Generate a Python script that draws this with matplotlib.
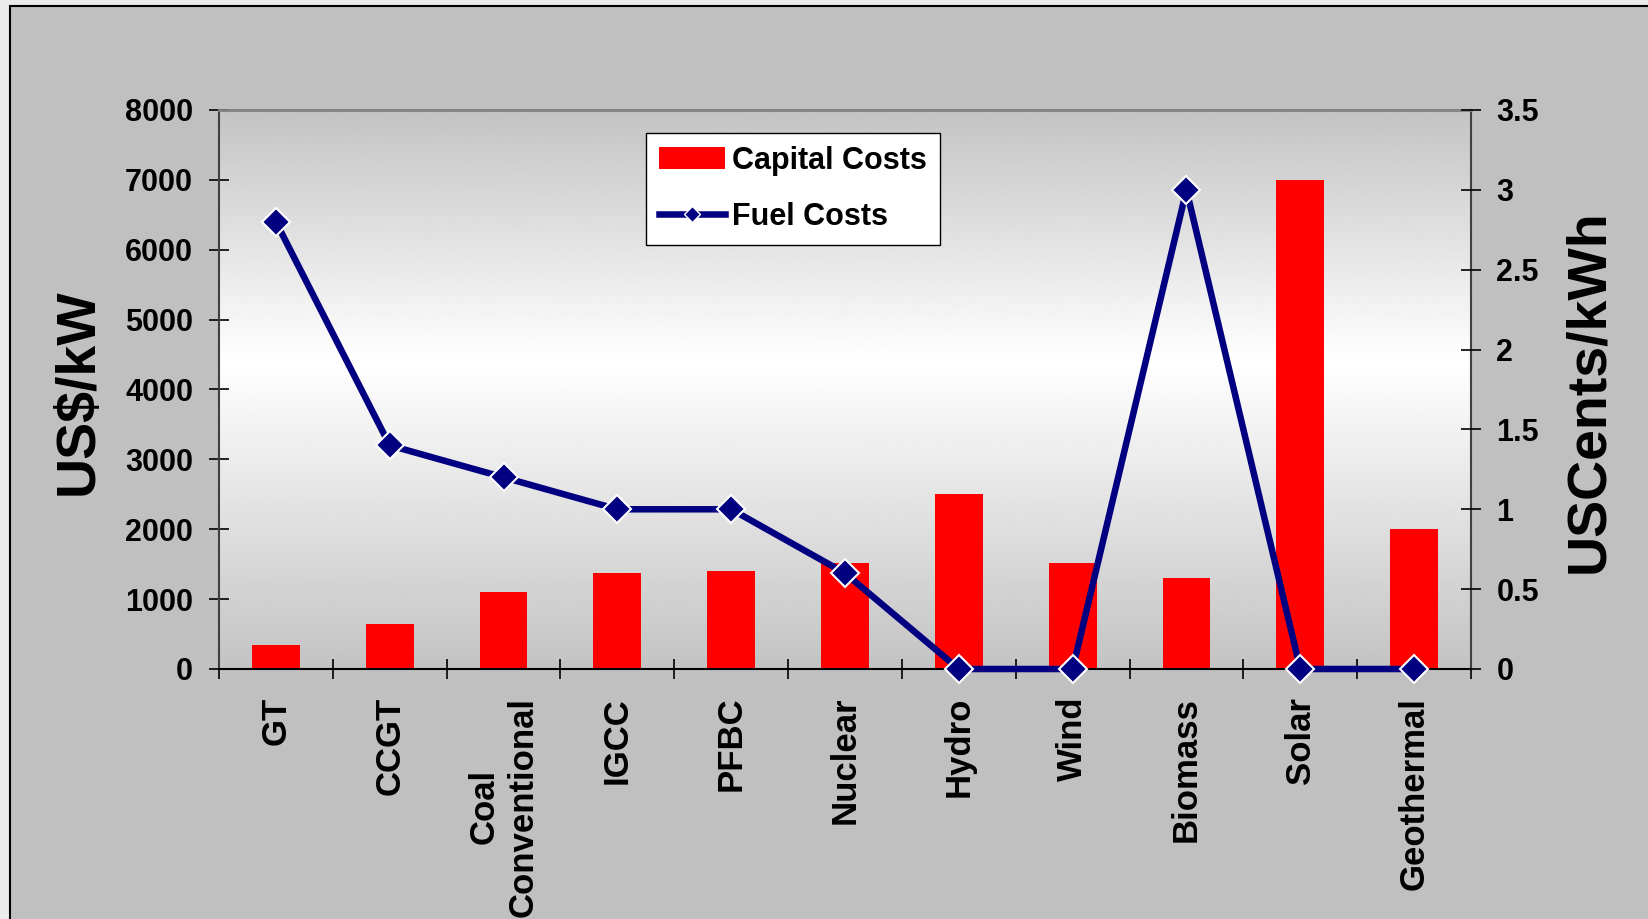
import numpy as np
import matplotlib
matplotlib.use('Agg')
import matplotlib.pyplot as plt
from matplotlib.lines import Line2D
from matplotlib.patches import Patch, Rectangle
from matplotlib.ticker import FuncFormatter

# generation technologies and their costs
technologies = ['GT', 'CCGT', 'Coal\nConventional', 'IGCC', 'PFBC', 'Nuclear',
                'Hydro', 'Wind', 'Biomass', 'Solar', 'Geothermal']
capital_costs = [350, 650, 1100, 1375, 1400, 1520, 2500, 1520, 1300, 7000, 2000]   # US$/kW
fuel_costs = [2.8, 1.4, 1.2, 1.0, 1.0, 0.6, 0, 0, 3.0, 0, 0]                       # UScents/kWh

plt.rcParams['font.family'] = ['Liberation Sans', 'DejaVu Sans']
plt.rcParams['font.weight'] = 'bold'

W, H = 1648, 919
fig = plt.figure(figsize=(W / 100, H / 100), dpi=100, facecolor='#ebebeb')

# grey chart frame, cut off on the right and bottom
fig.patches.append(Rectangle((10 / W, -0.1), 2, 1.1 - 6 / H, transform=fig.transFigure,
                             facecolor='#c0c0c0', edgecolor='black', lw=1.5, zorder=-10))

ax = fig.add_axes([219 / W, 1 - 669 / H, (1471 - 219) / W, (669 - 110) / H])

# plot area: grey -> white -> grey gradient
t = np.linspace(0, 1, 400)
c = 0.55
lo, hi = 195 / 255, 1.0
grad = np.where(t < c, lo + (hi - lo) * (t / c), hi - (hi - lo) * ((t - c) / (1 - c)))
ax.imshow(grad[:, None], extent=[0, 1, 0, 1], transform=ax.transAxes, origin='lower',
          aspect='auto', cmap='gray', vmin=0, vmax=1, zorder=0)

x = np.arange(len(technologies))
ax.bar(x, capital_costs, width=0.42, color='#ff0000', zorder=2)

ax2 = ax.twinx()
ax2.plot(x, fuel_costs, color='#000080', lw=4.7, marker='D', ms=14,
         mfc='#000080', mec='white', mew=1.5, zorder=3, clip_on=False)

ax.set_xlim(-0.5, len(technologies) - 0.5)
ax.set_ylim(0, 8000)
ax2.set_ylim(0, 3.5)

# left axis
ax.set_yticks(range(0, 8001, 1000))
ax.tick_params(axis='y', direction='inout', length=14.4, width=1.2, pad=11.5, labelsize=22)

# right axis
ax2.set_yticks(np.arange(0, 3.51, 0.5))
ax2.yaxis.set_major_formatter(FuncFormatter(lambda v, p: f'{v:g}'))
ax2.tick_params(axis='y', direction='inout', length=14.4, width=1.2, pad=11, labelsize=22)

# category labels between boundary ticks
ax.set_xticks(x)
ax.set_xticklabels(technologies, rotation=90, fontsize=25)
ax.tick_params(axis='x', which='major', length=0, pad=20)
ax.set_xticks(np.arange(-0.5, len(technologies), 1), minor=True)
ax.tick_params(axis='x', which='minor', direction='inout', length=14.4, width=1.2)

for s in ['top', 'left', 'bottom', 'right']:
    ax2.spines[s].set_visible(False)
ax.spines['top'].set_color('#808080')
ax.spines['top'].set_linewidth(2)
ax.spines['left'].set_color('#404040')
ax.spines['left'].set_linewidth(1.5)
ax.spines['bottom'].set_color('black')
ax.spines['bottom'].set_linewidth(1.5)
ax.spines['right'].set_color('#404040')
ax.spines['right'].set_linewidth(1.5)
ax.spines['bottom'].set_zorder(2.5)

fig.text(79 / W, 1 - 392 / H, 'US$/kW', rotation=90, ha='center', va='center', fontsize=40)
fig.text(1589 / W, 1 - 391 / H, 'USCents/kWh', rotation=90, ha='center', va='center', fontsize=40)

handles = [Patch(facecolor='#ff0000', edgecolor='none'),
           Line2D([], [], color='#000080', lw=4.7, marker='D', ms=8,
                  mfc='#000080', mec='white', mew=1)]
leg = fig.legend(handles, ['Capital Costs', 'Fuel Costs'], loc='upper left',
                 bbox_to_anchor=(646 / W, 1 - 133 / H), bbox_transform=fig.transFigure,
                 fontsize=22, fancybox=False, edgecolor='black', facecolor='white',
                 framealpha=1, borderaxespad=0, handlelength=2.15, handletextpad=0.25,
                 labelspacing=0.85, borderpad=0.42)
leg.get_frame().set_linewidth(1)

fig.savefig('out.png', dpi=100, facecolor=fig.get_facecolor())
